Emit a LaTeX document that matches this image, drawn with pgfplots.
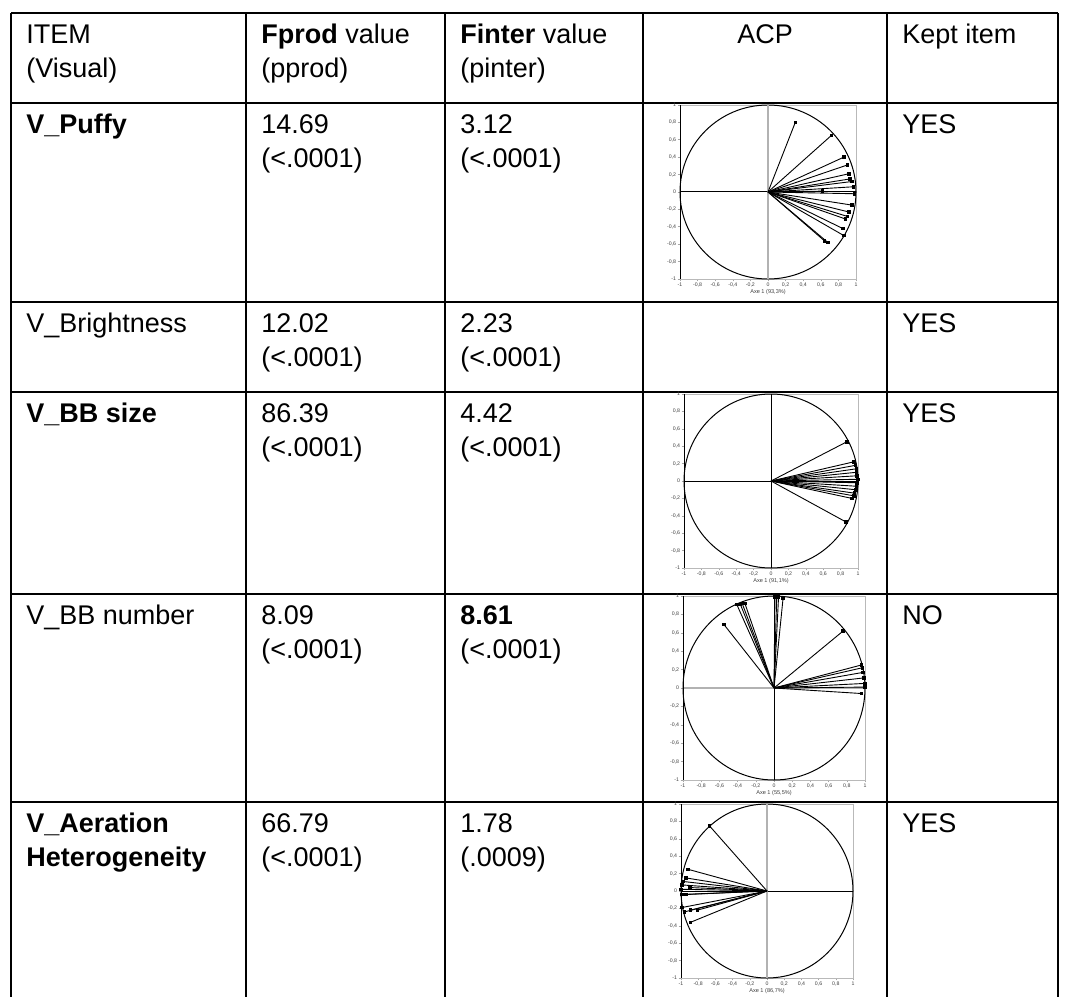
\documentclass[border=0pt]{standalone}
\usepackage{fontspec}
\setmainfont{Liberation Sans}
\usepackage{pgfplots}
\usepackage{pgfplotstable}
\pgfplotsset{compat=1.18}

% loadings read off the correlation circles
\pgfplotstableread{
u v
0.31 0.80
0.72 0.65
0.86 0.40
0.90 0.31
0.92 0.21
0.93 0.15
0.95 0.12
0.97 0.06
0.62 0.01
0.98 -0.02
0.95 -0.15
0.92 -0.23
0.90 -0.28
0.88 -0.31
0.85 -0.42
0.86 -0.50
0.68 -0.58
0.64 -0.56
}\puffy

\pgfplotstableread{
u v
0.87 0.45
0.95 0.22
0.97 0.18
0.98 0.14
0.98 0.10
0.99 0.06
1.00 0.02
0.99 -0.02
0.98 -0.06
0.97 -0.10
0.96 -0.14
0.95 -0.17
0.93 -0.20
0.86 -0.47
}\bbsize

\pgfplotstableread{
u v
-0.55 0.69
-0.41 0.91
-0.37 0.91
-0.35 0.92
-0.32 0.92
0.01 0.99
0.03 0.99
0.05 0.99
0.10 0.98
0.76 0.62
0.96 0.25
0.97 0.22
0.98 0.17
0.99 0.11
1.00 0.05
1.00 0.01
0.96 -0.06
}\bbnumber

\pgfplotstableread{
u v
-0.67 0.75
-0.92 0.25
-0.94 0.15
-0.98 0.11
-0.99 0.07
-0.90 0.04
-1.00 0.02
-0.94 -0.04
-0.99 -0.04
-0.99 -0.19
-0.96 -0.24
-0.89 -0.22
-0.81 -0.22
-0.89 -0.36
}\aeration

\pgfplotsset{
  acp/.style={
    scale only axis, anchor=south west, clip=false,
    xmin=-1, xmax=1, ymin=-1, ymax=1,
    axis line style={gray!55, line width=0.4pt},
    xtick={-1,-0.8,-0.6,-0.4,-0.2,0,0.2,0.4,0.6,0.8,1},
    ytick={-1,-0.8,-0.6,-0.4,-0.2,0,0.2,0.4,0.6,0.8,1},
    tick pos=left, tick align=outside, major tick length=1.2pt,
    tick style={gray!70, line width=0.3pt},
    ticklabel style={font=\fontsize{2.6}{3}\selectfont, text=black!75, inner sep=0.6pt},
    /pgf/number format/use comma,
    /pgf/number format/assume math mode=true,
    xlabel style={font=\fontsize{2.8}{3}\selectfont, text=black!75, inner sep=0.5pt},
  },
  vec/.style={black, line width=0.45pt, quiver={u=\thisrow{u}, v=\thisrow{v}}},
  tip/.style={black, only marks, mark=square*, mark size=0.65pt},
}
\tikzset{cell/.style={anchor=base west, inner sep=0pt, font=\fontsize{13.5}{16}\selectfont}}

\begin{document}
\begin{tikzpicture}
\begin{axis}[at={(0,0)}, anchor=south west, scale only axis,
  width=532.5pt, height=498.5pt,
  xmin=0, xmax=1065, ymin=0, ymax=997, y dir=reverse,
  hide axis, clip=false]
\path (rel axis cs:0,0) rectangle (rel axis cs:1,1);
% table rules
\addplot[black, line width=1.1pt, unbounded coords=jump] coordinates {
(11,13)(1058,13) (nan,nan)
(11,103)(1058,103) (nan,nan)
(11,302)(1058,302) (nan,nan)
(11,392)(1058,392) (nan,nan)
(11,594)(1058,594) (nan,nan)
(11,802)(1058,802) (nan,nan)
(11,13)(11,997) (nan,nan)
(246,13)(246,997) (nan,nan)
(445,13)(445,997) (nan,nan)
(643,13)(643,997) (nan,nan)
(887,13)(887,997) (nan,nan)
(1058,13)(1058,997)
};
% header
\node[cell] at (axis cs:26,43) {ITEM};
\node[cell] at (axis cs:26,77) {(Visual)};
\node[cell] at (axis cs:261,43) {\textbf{Fprod} value};
\node[cell] at (axis cs:261,77) {(pprod)};
\node[cell] at (axis cs:460,43) {\textbf{Finter} value};
\node[cell] at (axis cs:460,77) {(pinter)};
\node[cell, anchor=base] at (axis cs:765,43) {ACP};
\node[cell] at (axis cs:902,43) {Kept item};
% rows
\node[cell] at (axis cs:26,133) {\textbf{V\_Puffy}};
\node[cell] at (axis cs:261,133) {14.69};
\node[cell] at (axis cs:261,167) {(<.0001)};
\node[cell] at (axis cs:460,133) {3.12};
\node[cell] at (axis cs:460,167) {(<.0001)};
\node[cell] at (axis cs:902,133) {YES};

\node[cell] at (axis cs:26,332) {V\_Brightness};
\node[cell] at (axis cs:261,332) {12.02};
\node[cell] at (axis cs:261,366) {(<.0001)};
\node[cell] at (axis cs:460,332) {2.23};
\node[cell] at (axis cs:460,366) {(<.0001)};
\node[cell] at (axis cs:902,332) {YES};

\node[cell] at (axis cs:26,422) {\textbf{V\_BB size}};
\node[cell] at (axis cs:261,422) {86.39};
\node[cell] at (axis cs:261,456) {(<.0001)};
\node[cell] at (axis cs:460,422) {4.42};
\node[cell] at (axis cs:460,456) {(<.0001)};
\node[cell] at (axis cs:902,422) {YES};

\node[cell] at (axis cs:26,624) {V\_BB number};
\node[cell] at (axis cs:261,624) {8.09};
\node[cell] at (axis cs:261,658) {(<.0001)};
\node[cell] at (axis cs:460,624) {\textbf{8.61}};
\node[cell] at (axis cs:460,658) {(<.0001)};
\node[cell] at (axis cs:902,624) {NO};

\node[cell] at (axis cs:26,832) {\textbf{V\_Aeration}};
\node[cell] at (axis cs:26,866) {\textbf{Heterogeneity}};
\node[cell] at (axis cs:261,832) {66.79};
\node[cell] at (axis cs:261,866) {(<.0001)};
\node[cell] at (axis cs:460,832) {1.78};
\node[cell] at (axis cs:460,866) {(.0009)};
\node[cell] at (axis cs:902,832) {YES};
\end{axis}

% V_Puffy
\begin{axis}[acp, at={(340pt,359pt)}, width=88pt, height=87pt, xlabel={Axe 1 (93,3\%)}]
\draw[black, line width=0.5pt] (axis cs:0,0) ellipse [x radius=1, y radius=1];
\addplot[black, line width=0.5pt] coordinates {(-1,0) (1,0)};
\addplot[gray!60, line width=0.6pt] coordinates {(0,-1) (0,1)};
\addplot[black, line width=0.5pt] coordinates {(-1,-1) (-1,1)};
\addplot[vec] table[x expr=0, y expr=0] {\puffy};
\addplot[tip] table[x=u, y=v] {\puffy};
\end{axis}

% V_BB size
\begin{axis}[acp, at={(342pt,214.5pt)}, width=87pt, height=87pt, xlabel={Axe 1 (91,1\%)}]
\draw[black, line width=0.5pt] (axis cs:0,0) ellipse [x radius=1, y radius=1];
\addplot[black, line width=0.5pt] coordinates {(-1,0) (1,0)};
\addplot[black, line width=0.5pt] coordinates {(0,-1) (0,1)};
\addplot[black, line width=0.5pt] coordinates {(-1,-1) (-1,1)};
\addplot[vec] table[x expr=0, y expr=0] {\bbsize};
\addplot[tip] table[x=u, y=v] {\bbsize};
\end{axis}

% V_BB number
\begin{axis}[acp, at={(341.5pt,108.5pt)}, width=91pt, height=92pt, xlabel={Axe 1 (55,5\%)}]
\draw[black, line width=0.5pt] (axis cs:0,0) ellipse [x radius=1, y radius=1];
\addplot[gray!60, line width=0.6pt] coordinates {(-1,0) (1,0)};
\addplot[black, line width=0.5pt] coordinates {(0,-1) (0,1)};
\addplot[black, line width=0.5pt] coordinates {(-1,-1) (-1,1)};
\addplot[vec] table[x expr=0, y expr=0] {\bbnumber};
\addplot[tip] table[x=u, y=v] {\bbnumber};
\end{axis}

% V_Aeration Heterogeneity
\begin{axis}[acp, at={(340.5pt,9.5pt)}, width=86pt, height=87pt, xlabel={Axe 1 (86,7\%)}]
\draw[black, line width=0.5pt] (axis cs:0,0) ellipse [x radius=1, y radius=1];
\addplot[black, line width=0.5pt] coordinates {(-1,0) (1,0)};
\addplot[gray!60, line width=0.6pt] coordinates {(0,-1) (0,1)};
\addplot[black, line width=0.5pt] coordinates {(-1,-1) (-1,1)};
\addplot[vec] table[x expr=0, y expr=0] {\aeration};
\addplot[tip] table[x=u, y=v] {\aeration};
\end{axis}
\end{tikzpicture}
\end{document}
